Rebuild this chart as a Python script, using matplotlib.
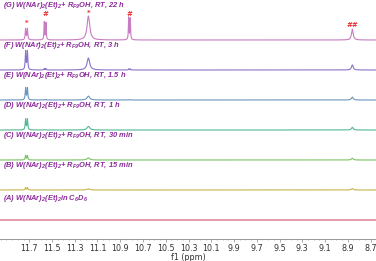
import numpy as np
import matplotlib
matplotlib.use("Agg")
import matplotlib.pyplot as plt
from matplotlib.ticker import MultipleLocator, FormatStrFormatter

plt.rcParams['mathtext.fontset'] = 'custom'
plt.rcParams['mathtext.it'] = 'Liberation Sans:italic:bold'
plt.rcParams['mathtext.rm'] = 'Liberation Sans:italic:bold'
plt.rcParams['mathtext.default'] = 'it'

# trace labels, bottom (A) to top (G)
labels = [
    r"(A) W(NAr)$_2$(Et)$_2$in C$_6$D$_6$",
    r"(B) W(NAr)$_2$(Et)$_2$+ R$_{F9}$OH, RT, 15 min",
    r"(C) W(NAr)$_2$(Et)$_2$+ R$_{F9}$OH, RT, 30 min",
    r"(D) W(NAr)$_2$(Et)$_2$+ R$_{F9}$OH, RT, 1 h",
    r"(E) W(NAr)$_2$(Et)$_2$+ R$_{F9}$OH, RT, 1.5 h",
    r"(F) W(NAr)$_2$(Et)$_2$+ R$_{F9}$OH, RT, 3 h",
    r"(G) W(NAr)$_2$(Et)$_2$+ R$_{F9}$OH, RT, 22 h",
]
label_y = [0.73, 0.83, 0.83, 0.83, 0.83, 0.83, 1.16]
colors = ["#d4506e", "#c8b448", "#7cc264", "#52b896", "#6a96bc", "#8a74c8", "#c87cc2"]

# peak positions (ppm) and half widths
peak_ppm = [11.732, 11.716, 11.568, 11.553, 11.18, 10.826, 10.812, 8.86]
peak_hw = [0.004, 0.004, 0.003, 0.003, 0.014, 0.003, 0.003, 0.009]

# peak heights per trace (in trace spacing units), A..G
heights = [
    [0.00, 0.00, 0.00, 0.00, 0.00, 0.00, 0.00, 0.00],
    [0.08, 0.08, 0.00, 0.00, 0.04, 0.00, 0.00, 0.05],
    [0.15, 0.15, 0.00, 0.00, 0.07, 0.00, 0.00, 0.06],
    [0.36, 0.36, 0.01, 0.01, 0.12, 0.00, 0.00, 0.09],
    [0.40, 0.40, 0.02, 0.02, 0.13, 0.01, 0.01, 0.10],
    [0.62, 0.62, 0.05, 0.05, 0.40, 0.04, 0.04, 0.17],
    [0.37, 0.37, 0.60, 0.57, 0.80, 0.74, 0.71, 0.36],
]

# assignment marks on top trace
mark_ppm = [11.724, 11.56, 11.18, 10.82, 8.86]
mark_y = [6.58, 6.88, 6.90, 6.88, 6.50]
mark_txt = ["*", "#", "*", "#", "##"]

fig = plt.figure(figsize=(3.76, 2.61), dpi=100)
ax = fig.add_axes([0, 22 / 261, 1, 239 / 261])

x = np.linspace(11.96, 8.65, 4000)
for i in range(len(labels)):
    y = np.zeros_like(x) + i
    for p, w, h in zip(peak_ppm, peak_hw, heights[i]):
        y += h * w**2 / ((x - p)**2 + w**2)
    ax.plot(x, y, color=colors[i], lw=0.8)
    ax.text(11.93, i + label_y[i], labels[i], color="#8a2a9a", fontsize=5.4,
            fontweight="bold", fontstyle="italic", family="Liberation Sans",
            va="center", ha="left")

for p, yy, t in zip(mark_ppm, mark_y, mark_txt):
    ax.text(p, yy, t, color="#e83030", fontsize=5, fontweight="bold",
            ha="center", va="center")

ax.set_xlim(11.957, 8.652)
ax.set_ylim(-0.633, 7.333)
for s in ["top", "left", "right"]:
    ax.spines[s].set_visible(False)
ax.spines["bottom"].set_color("#888888")
ax.spines["bottom"].set_linewidth(0.6)
ax.set_yticks([])
ax.set_xticks(np.arange(8.7, 11.71, 0.2))
ax.xaxis.set_minor_locator(MultipleLocator(0.05))
ax.tick_params(axis="x", which="major", length=2, width=0.5, color="#888888",
               labelsize=5.8, pad=1.5, labelcolor="#333333")
ax.tick_params(axis="x", which="minor", length=1, width=0.4, color="#888888")
ax.xaxis.set_major_formatter(FormatStrFormatter("%.1f"))
ax.set_xlabel("f1 (ppm)", fontsize=5.8, labelpad=0, color="#333333")

fig.savefig("out.png", dpi=100)
